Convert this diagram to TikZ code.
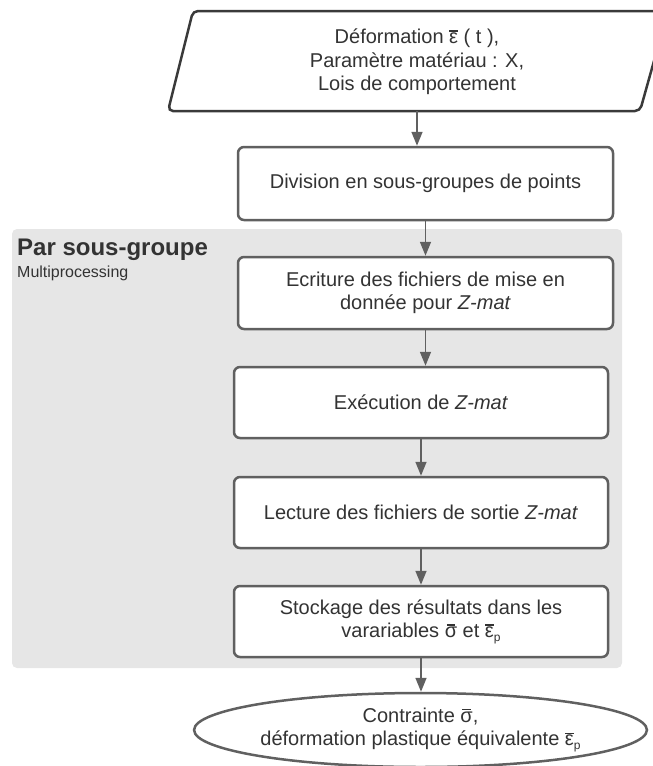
\documentclass[tikz,border=0pt]{standalone}
\usepackage{fontspec}
\setmainfont{Liberation Sans}
\usetikzlibrary{shapes.geometric,arrows.meta}
\definecolor{linec}{HTML}{606060}
\definecolor{parac}{HTML}{3A3A3A}
\definecolor{arrc}{HTML}{606060}
\definecolor{txt}{HTML}{333333}
\definecolor{grp}{HTML}{E6E6E6}
\newcommand{\barover}[1]{\ooalign{#1\cr\hidewidth\rule[0.6em]{0.42em}{0.065em}\hidewidth\cr}}
\newcommand{\ebar}{\barover{ε}}
\newcommand{\sbar}{\barover{σ}}
\newcommand{\subp}{\raisebox{-0.35ex}{\fontsize{12}{12}\selectfont p}}
\begin{document}
\begin{tikzpicture}[x=1pt,y=-1pt,
  box/.style={draw=linec, line width=2.5pt, rounded corners=6pt, fill=white, text=txt,
    align=center, font=\fontsize{20}{23.5}\selectfont, inner sep=0pt},
  arr/.style={draw=arrc, line width=1.6pt, -{Triangle[length=14pt,width=11pt]}}]
\useasboundingbox (0,0) rectangle (653,766);
% group region
\path[fill=grp, rounded corners=5pt] (12,229) rectangle (622,668);
\node[anchor=base west, text=txt, font=\fontsize{24}{24}\selectfont\bfseries, inner sep=0pt] (glab) at (17,255) {Par sous-groupe};
\node[anchor=base west, text=txt, font=\fontsize{16}{16}\selectfont, inner sep=0pt] (gsub) at (17,277) {Multiprocessing};
% input parallelogram
\draw[draw=parac, line width=2.5pt, rounded corners=5pt, fill=white] (193,11) -- (668,11) -- (640,111) -- (168,111) -- cycle;
\node[align=center, text=txt, font=\fontsize{20}{23.5}\selectfont, inner sep=0pt] (in) at (417,62)
  {Déformation \ebar\ ( t ),\\ Paramètre matériau : X,\\ Lois de comportement};
\coordinate (inS) at (417,111);
% boxes
\node[box, minimum width=375pt, minimum height=73pt] (b1) at (425.5,183.5) {Division en sous-groupes de points};
\node[box, minimum width=375pt, minimum height=72pt] (b2) at (425.5,293) {Ecriture des fichiers de mise en\\ donnée pour \textit{Z-mat}};
\node[box, minimum width=374pt, minimum height=71pt] (b3) at (421,402.5) {Exécution de \textit{Z-mat}};
\node[box, minimum width=374pt, minimum height=71pt] (b4) at (421,512.5) {Lecture des fichiers de sortie \textit{Z-mat}};
\node[box, minimum width=374pt, minimum height=71pt] (b5) at (421,621.5) {Stockage des résultats dans les\\ varariables \sbar\ et \ebar\subp};
\node[ellipse, draw=linec, line width=2.5pt, fill=white, text=txt, align=center,
  font=\fontsize{20}{23.5}\selectfont, inner sep=0pt, minimum width=375pt, minimum height=74pt] (out) at (420.5,730)
  {Contrainte \sbar,\\ déformation plastique équivalente \ebar\subp};
% arrows
\draw[arr] (inS) -- (inS |- b1.north);
\draw[arr] (b1.south) -- (b1.south |- b2.north);
\draw[arr] (b2.south) -- (b2.south |- b3.north);
\draw[arr] (b3.south) -- (b3.south |- b4.north);
\draw[arr] (b4.south) -- (b4.south |- b5.north);
\draw[arr] (b5.south) -- (b5.south |- out.north);
\end{tikzpicture}
\end{document}
